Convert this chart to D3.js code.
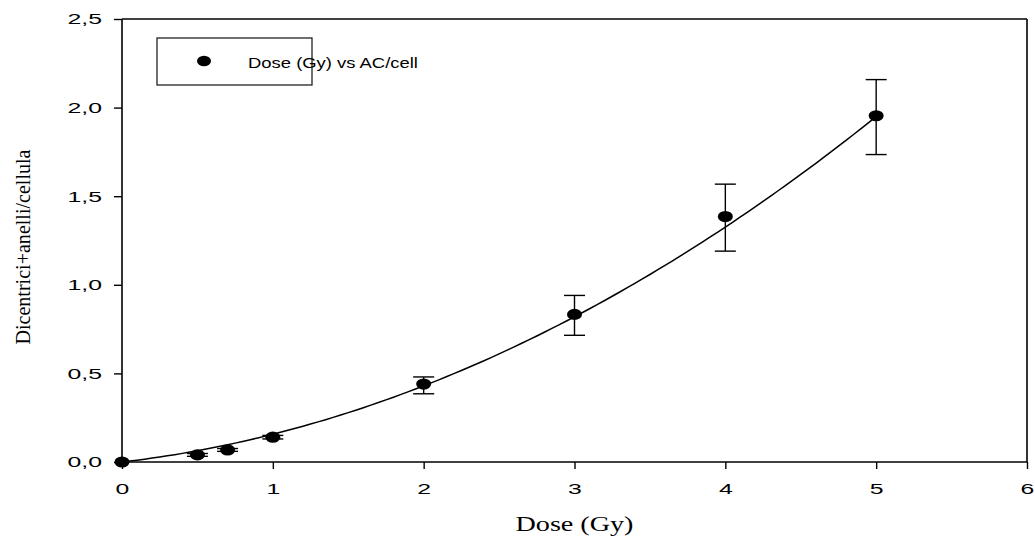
<!DOCTYPE html>
<html>
<head>
<meta charset="utf-8">
<script src="https://cdn.jsdelivr.net/npm/d3@7"></script>
<style>
  html, body { margin: 0; padding: 0; background: #fff; }
  svg { display: block; }
</style>
</head>
<body>
<svg id="chart" width="1035" height="537"></svg>
<script>
// Measured doses (Gy) and aberration yields (dicentrics + rings per cell)
const doses = [0, 0.5, 0.7, 1, 2, 3, 4, 5];
const yields = [0.0, 0.04, 0.068, 0.14, 0.44, 0.833, 1.385, 1.954];
const errLow = [0.0, 0.032, 0.06, 0.13, 0.385, 0.715, 1.19, 1.735];
const errHigh = [0.0, 0.048, 0.076, 0.15, 0.48, 0.94, 1.568, 2.158];

// Linear-quadratic fit  Y = alpha*D + beta*D^2
const fitAlpha = 0.0983;
const fitBeta = 0.0583;
const fitRange = [0, 5];

const xTicks = [0, 1, 2, 3, 4, 5, 6];
const yTicks = [0, 0.5, 1.0, 1.5, 2.0, 2.5];
const legendLabel = "Dose (Gy) vs AC/cell";
const xTitle = "Dose (Gy)";
const yTitle = "Dicentrici+anelli/cellula";

const svg = d3.select("#chart");
const plotLeft = 122, plotRight = 1027, plotTop = 19, plotBottom = 462;

const x = d3.scaleLinear().domain([0, 6]).range([plotLeft, plotRight]);
const y = d3.scaleLinear().domain([0, 2.5]).range([plotBottom, plotTop]);

const sans = "'Liberation Sans', Arial, sans-serif";
const serif = "'Liberation Serif', 'Times New Roman', serif";
const fmtY = v => d3.format(".1f")(v).replace(".", ",");
const wide = 1.6; // horizontal stretch of the tick label glyphs

// Frame lines on top and right
svg.append("line").attr("x1", plotLeft).attr("x2", plotRight).attr("y1", plotTop).attr("y2", plotTop)
  .attr("stroke", "#000").attr("stroke-width", 1.6);
svg.append("line").attr("x1", plotRight).attr("x2", plotRight).attr("y1", plotTop).attr("y2", plotBottom)
  .attr("stroke", "#000").attr("stroke-width", 1.6);

// Axes
const xAxis = svg.append("g").attr("transform", `translate(0,${plotBottom})`)
  .call(d3.axisBottom(x).tickValues(xTicks).tickFormat(d3.format("d")).tickSize(7).tickPadding(14));
const yAxis = svg.append("g").attr("transform", `translate(${plotLeft},0)`)
  .call(d3.axisLeft(y).tickValues(yTicks).tickFormat(fmtY).tickSize(8).tickPadding(12));
[xAxis, yAxis].forEach(g => {
  g.select(".domain").attr("stroke", "#000").attr("stroke-width", 1.6);
  g.selectAll(".tick line").attr("stroke", "#000").attr("stroke-width", 1.4);
  g.selectAll(".tick text").attr("font-family", sans).attr("font-size", 15.5).attr("fill", "#000");
});
xAxis.selectAll(".tick text").attr("transform", `scale(${wide},1)`);
yAxis.selectAll(".tick text").attr("transform", function () {
  const tx = +d3.select(this).attr("x");
  return `translate(${tx},0) scale(${wide},1) translate(${-tx},0)`;
});
xAxis.select(".domain").attr("d", `M${plotLeft},0H${plotRight}`);
yAxis.select(".domain").attr("d", `M0,${plotBottom}V${plotTop}`);

// Fitted curve
const fitPts = d3.range(fitRange[0], fitRange[1] + 1e-9, 0.05)
  .map(d => [d, fitAlpha * d + fitBeta * d * d]);
svg.append("path")
  .datum(fitPts)
  .attr("fill", "none").attr("stroke", "#000").attr("stroke-width", 1.5)
  .attr("d", d3.line().x(d => x(d[0])).y(d => y(d[1])));

// Error bars
const data = doses.map((d, i) => ({ d, v: yields[i], lo: errLow[i], hi: errHigh[i] }));
const bars = svg.append("g").selectAll("g").data(data.filter(p => p.hi > p.lo)).join("g");
const capW = 10.5;
bars.append("line").attr("x1", p => x(p.d)).attr("x2", p => x(p.d))
  .attr("y1", p => y(p.lo)).attr("y2", p => y(p.hi)).attr("stroke", "#000").attr("stroke-width", 1.4);
bars.append("line").attr("x1", p => x(p.d) - capW).attr("x2", p => x(p.d) + capW)
  .attr("y1", p => y(p.hi)).attr("y2", p => y(p.hi)).attr("stroke", "#000").attr("stroke-width", 1.4);
bars.append("line").attr("x1", p => x(p.d) - capW).attr("x2", p => x(p.d) + capW)
  .attr("y1", p => y(p.lo)).attr("y2", p => y(p.lo)).attr("stroke", "#000").attr("stroke-width", 1.4);

// Data points
svg.append("g").selectAll("ellipse").data(data).join("ellipse")
  .attr("cx", p => x(p.d)).attr("cy", p => y(p.v))
  .attr("rx", 7.5).attr("ry", 5.6).attr("fill", "#000");

// Legend
const lg = svg.append("g");
lg.append("rect").attr("x", 157).attr("y", 38).attr("width", 155).attr("height", 47)
  .attr("fill", "#fff").attr("stroke", "#222").attr("stroke-width", 1.3);
lg.append("ellipse").attr("cx", 204).attr("cy", 61).attr("rx", 7).attr("ry", 5.3).attr("fill", "#000");
lg.append("text").attr("x", 0).attr("y", 0).attr("font-family", sans).attr("font-size", 15.5)
  .attr("transform", "translate(248,68) scale(1.19,1)")
  .attr("fill", "#000").text(legendLabel);

// Axis titles
svg.append("text").attr("x", x(3)).attr("y", 531).attr("text-anchor", "middle")
  .attr("font-family", serif).attr("font-size", 20)
  .attr("textLength", 118).attr("lengthAdjust", "spacingAndGlyphs")
  .attr("fill", "#000").text(xTitle);
svg.append("text").attr("transform", "translate(30,247) rotate(-90)")
  .attr("text-anchor", "middle").attr("font-family", serif).attr("font-size", 22)
  .attr("textLength", 195).attr("lengthAdjust", "spacingAndGlyphs")
  .attr("fill", "#000").text(yTitle);
</script>
</body>
</html>
